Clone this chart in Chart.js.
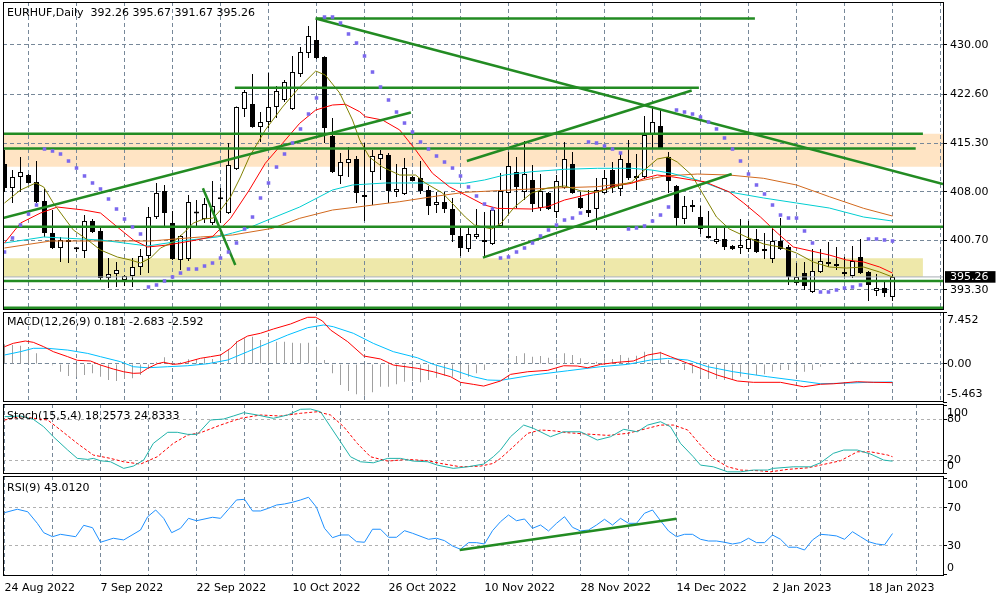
<!DOCTYPE html>
<html>
<head>
<meta charset="utf-8">
<script src="https://cdn.jsdelivr.net/npm/chart.js@4.4.1/dist/chart.umd.min.js"></script>
<style>
  html, body { margin:0; padding:0; background:#fff; }
  #wrap { position:relative; width:1000px; height:600px; overflow:hidden; background:#fff; }
  canvas { position:absolute; left:0; }
  .ttl { position:absolute; left:7px; font-family:"DejaVu Sans"; font-size:11px; line-height:13px; color:#000; white-space:pre; }
</style>
</head>
<body>
<div id="wrap">
  <canvas id="cBg" width="1000" height="311" style="top:0px"></canvas>
  <canvas id="cMain" width="1000" height="311" style="top:0px"></canvas>
  <canvas id="cMacd" width="1000" height="93" style="top:311px"></canvas>
  <canvas id="cStoch" width="1000" height="72" style="top:404px"></canvas>
  <canvas id="cRsi" width="1000" height="124" style="top:476px"></canvas>
  <div class="ttl" style="top:6px">EURHUF,Daily  392.26 395.67 391.67 395.26</div>
  <div class="ttl" style="top:315px">MACD(12,26,9) 0.181 -2.683 -2.592</div>
  <div class="ttl" style="top:409px">Stoch(15,5,4) 18.2573 24.8333</div>
  <div class="ttl" style="top:481px">RSI(9) 43.0120</div>
</div>
<script>
// ---------------- DATA ----------------
const dateLabels = ['24 Aug 2022','7 Sep 2022','22 Sep 2022','10 Oct 2022','26 Oct 2022','10 Nov 2022','28 Nov 2022','14 Dec 2022','2 Jan 2023','18 Jan 2023'];
const dateBars = [0,12,24,36,48,60,72,84,96,108];
const gridBars = [0,6,12,18,24,30,36,42,48,54,60,66,72,78,84,90,96,102,108,114];

const opens = [412.17,408.58,410.23,410.52,409.48,406.63,401.84,399.59,400.79,399.45,
399.14,403.63,402.14,395.10,395.69,394.80,395.40,396.74,398.39,404.23,
408.13,403.33,397.79,397.94,404.83,403.93,403.33,406.93,404.83,411.42,
420.41,421.16,417.72,418.46,420.71,421.76,420.41,425.65,428.80,430.75,
428.20,416.37,410.38,412.32,412.92,407.30,410.97,412.92,413.52,407.98,
407.68,410.23,410.08,408.28,406.03,406.48,405.43,401.39,399.44,401.24,
400.64,400.19,402.89,407.83,410.97,407.98,409.78,405.58,407.83,404.98,
408.58,412.17,407.08,405.28,405.43,407.83,411.27,408.43,412.32,410.08,
410.23,416.52,417.87,413.22,408.88,403.93,406.03,404.23,401.39,400.49,
400.94,399.89,399.59,399.44,400.94,399.22,397.94,400.64,399.74,394.35,
395.84,393.00,395.99,397.49,397.19,395.69,395.40,398.24,395.99,393.15,
393.60,392.26];
const highs = [414.27,411.27,413.22,410.67,412.62,408.43,405.28,401.24,402.59,399.74,
404.53,403.93,402.59,398.09,397.49,395.54,398.09,399.44,405.73,409.33,
409.03,405.13,401.54,407.53,406.78,407.08,409.63,408.58,415.32,420.80,
423.26,425.65,419.96,425.80,423.86,424.76,428.35,429.70,432.85,433.89,
428.30,419.06,413.82,414.72,413.37,415.32,414.27,414.27,413.82,412.17,
413.07,410.38,412.62,408.88,407.98,407.98,407.08,402.59,402.89,405.43,
404.98,405.73,410.82,413.97,413.22,415.62,412.02,410.67,407.98,410.52,
415.47,413.97,407.98,408.28,410.08,411.27,412.47,413.97,415.77,413.67,
419.36,420.86,420.26,413.97,409.03,407.38,406.78,405.88,405.13,402.74,
402.74,400.04,403.93,403.63,402.44,401.84,402.74,404.08,400.04,397.34,
397.49,399.44,399.44,400.49,399.74,398.24,399.89,400.94,396.14,395.69,
394.50,395.67];
const lows = [407.98,406.33,407.98,409.20,406.33,401.24,399.44,397.49,397.34,398.99,
398.09,401.84,394.80,393.60,393.75,393.90,393.75,395.54,395.84,403.93,
402.74,397.79,396.29,397.64,402.74,403.33,403.03,403.33,404.68,411.27,
419.21,417.60,415.47,417.57,419.06,421.46,420.26,425.21,428.05,427.90,
415.32,410.82,409.18,410.23,406.33,403.63,406.03,409.78,406.33,407.23,
407.53,409.55,407.68,404.53,404.83,404.83,400.49,398.39,398.99,400.94,
398.09,400.04,402.74,404.53,405.58,406.78,404.98,405.13,405.28,404.08,
408.45,407.70,405.43,404.23,402.29,407.70,407.83,407.38,409.78,408.28,
409.93,414.57,414.42,407.83,402.89,403.18,404.98,401.69,401.00,400.19,
399.29,399.29,398.69,398.99,398.84,397.94,397.34,399.29,394.05,394.05,
393.30,392.85,395.84,396.74,396.29,395.25,395.10,395.69,391.65,392.40,
392.25,391.67];
const closes = [408.58,410.23,410.97,409.33,406.48,401.84,399.59,400.79,400.49,399.40,
403.63,401.99,395.10,395.69,396.29,395.40,396.74,398.39,404.23,407.83,
404.83,397.94,401.39,406.48,404.76,406.18,405.88,406.90,412.02,420.71,
422.96,417.72,418.46,420.71,423.11,424.46,425.95,428.95,431.35,428.05,
417.57,410.97,412.47,412.92,407.83,407.23,413.37,413.67,408.13,408.43,
411.57,409.63,408.13,405.88,406.48,405.43,401.54,399.59,401.69,401.69,
400.49,405.28,408.13,411.87,408.73,410.67,406.18,408.13,405.43,409.63,
412.92,407.83,405.58,404.83,408.28,410.08,408.58,412.92,410.08,410.38,
416.52,418.46,414.57,409.63,404.08,405.88,405.73,402.44,401.09,400.94,
399.74,399.44,400.04,400.94,398.99,399.14,400.64,399.44,395.25,395.25,
393.90,396.14,397.64,397.19,396.89,395.99,397.64,395.84,394.05,393.60,
392.85,395.26];
const sar = [398.99,401.09,403.03,404.68,406.03,
414.42,414.12,413.67,412.62,411.57,410.38,409.33,408.43,406.93,405.43,403.93,402.74,401.69,
393.75,394.05,394.65,395.25,395.84,396.44,396.44,396.89,397.34,398.09,398.99,400.34,402.44,404.23,407.08,409.33,411.72,413.67,415.32,417.42,419.66,422.06,
434.19,434.19,433.29,431.65,430.30,428.35,425.95,423.71,421.76,419.96,418.31,416.97,415.47,414.42,413.37,412.47,411.57,410.38,408.73,407.38,406.18,405.43,
398.09,398.24,398.99,399.59,400.34,401.39,402.29,403.03,403.78,404.08,404.83,
415.47,415.32,414.87,414.42,413.82,
402.44,402.59,402.89,403.63,404.53,405.73,
420.26,419.96,419.66,419.21,418.46,417.42,416.07,414.42,412.62,410.67,409.03,407.68,406.03,404.53,404.08,404.08,402.14,400.34,
393.00,393.00,393.30,393.60,393.75,394.05,
400.94,400.94,400.79,400.64];

const maFast = [[0,406.33],[2,408.28],[3.9,409.33],[4.9,408.73],[6.1,406.33],[7.4,404.23],[8.6,402.29],[10.4,400.79],[12,399.29],[14.1,398.24],[15.75,397.79],[17,397.34],[18.25,398.09],[19.5,399.59],[21.1,400.49],[22.4,401.84],[23.6,403.33],[24.9,403.93],[26.1,404.08],[27,405.28],[28.25,407.23],[29.5,410.23],[30.6,413.22],[32.6,417.27],[34.75,420.71],[36.9,423.71],[38.9,426.10],[40.1,425.50],[41.9,422.81],[43.5,418.76],[44.4,415.77],[45.6,413.22],[47.25,411.72],[49.4,410.52],[51.4,410.52],[52.6,409.33],[54.75,407.83],[57.6,404.23],[58.75,403.03],[60.9,402.44],[62.1,403.33],[63.75,405.73],[65.9,407.83],[67.9,408.58],[70,408.88],[72.1,408.13],[74.1,407.98],[76.25,408.73],[78.4,409.48],[80,411.27],[81.6,412.92],[82.9,413.22],[84.1,412.47],[85.9,410.52],[87.75,406.78],[89,404.23],[90.6,402.44],[92.75,401.24],[94.9,400.19],[96.9,399.74],[99,398.84],[101.1,397.49],[103.1,396.74],[105.25,396.59],[107.4,396.74],[109.4,395.99],[111,395.25]];
const maRed = [[0,400.34],[2,403.33],[4.5,404.83],[6.6,405.73],[9.9,405.28],[12,404.83],[14.1,402.74],[16.1,400.79],[17.9,399.74],[20.4,400.04],[24,400.79],[26,401.29],[28.25,404.04],[30.6,408.28],[32.6,412.28],[34.75,415.28],[36.9,418.27],[38.9,420.26],[41,421.01],[42.6,421.12],[44.4,420.01],[45.1,419.26],[47.25,418.76],[49.4,417.27],[51.4,414.27],[53.5,410.78],[55.6,408.77],[57.6,407.53],[60,406.03],[61.6,405.53],[65.9,405.43],[67.9,405.78],[70,406.78],[72.1,407.38],[74.1,408.02],[76.25,408.88],[78.4,409.28],[80,410.03],[81.6,410.53],[83.4,410.27],[85.9,409.78],[87.5,409.52],[90.6,407.98],[92.4,406.33],[94.5,404.23],[96.6,401.84],[98.6,399.74],[103.1,398.54],[105.25,397.79],[107.4,397.49],[109.4,396.74],[111,395.84]];
const maCyan = [[0,400.34],[4.9,401.24],[12,400.79],[17.9,399.89],[22,400.64],[26.6,401.24],[28.5,401.84],[29.9,402.29],[33.5,404.08],[36.9,405.73],[41,408.28],[43.5,409.03],[47.6,409.33],[53.5,409.33],[57.5,409.28],[60,409.78],[62.5,410.53],[65.9,411.02],[70,411.38],[74.1,411.53],[78.4,411.53],[80.9,411.27],[83.4,410.78],[86.6,409.78],[90.6,407.98],[94.9,407.08],[99,406.33],[103.1,405.58],[107.4,404.23],[111,403.63]];
const maOrange = [[0,399.59],[5.75,400.64],[12,400.64],[18.25,400.64],[24.5,401.24],[28.5,401.54],[33.5,402.54],[36.9,404.04],[41,405.28],[45.1,405.88],[49.4,406.53],[53.5,407.28],[57.5,407.93],[61.6,408.18],[65.9,408.43],[70,408.63],[74.1,408.78],[78.4,409.38],[82.5,410.38],[86.6,410.67],[90.6,410.52],[94.9,410.03],[99,409.03],[103.1,407.28],[107.4,405.53],[111,404.38]];

// horizontal levels: [price, fromBar, toBar]
const hLevels = [[433.97,38.9,93.8],[423.60,28.8,86.8],[416.71,-1,114.8],[414.49,-1,113.9],[402.78,-1,118],[394.65,-1,118],[390.63,-1,118]];
// trend lines: [bar1, price1, bar2, price2]
const trendLines = [[38.9,433.97,117.31,409.18],[-0.19,404.08,50.8,419.89],[24.8,408.53,28.85,397.04],[57.8,412.62,85.9,423.18],[59.8,398.14,90.9,410.67]];
// zones: [top, bottom, fromBar, toBar]
const zones = [[416.71,411.77,-1,118],[398.05,395.29,-1,114.8]];
const zoneColors = ['#FFE4C4','#EEE8AA'];
const lastPrice = 395.26;
const priceTickValues = [430.00,422.60,415.30,408.00,400.70,393.30];
const priceTickLabels = ['430.00','422.60','415.30','408.00','400.70','393.30'];

const macdHist = [2.81,2.71,2.61,2.24,1.52,0.1,-0.2,-1.12,-1.74,-1.84,
-1.59,-1.35,-1.84,-2.31,-2.45,-2.17,-2.07,-1.59,-0.73,0.23,
0.95,0.32,0.23,0.66,0.70,0.80,0.70,1.03,1.99,3.29,
3.67,3.90,3.43,3.53,3.19,3.19,3.04,2.96,3.04,2.47,
0.56,-1.35,-3.03,-3.89,-4.36,-4.56,-4.08,-3.27,-3.27,-2.93,
-2.55,-2.45,-2.64,-2.31,-1.98,-1.69,-1.84,-1.98,-1.84,-1.35,
-0.88,-0.16,0.0,0.8,1.13,1.52,1.03,1.13,0.89,0.80,
1.52,1.28,0.80,0.23,0.32,0.80,0.70,1.28,0.89,1.18,
1.75,2.10,1.75,0.56,-0.05,-0.88,-1.35,-1.69,-2.17,-2.17,
-2.31,-2.31,-1.84,-1.69,-1.59,-1.49,-1.12,-0.88,-0.88,-0.88,
-1.12,-0.88,-0.40,0.1,0.15,0.1,0.23,0.2,0.1,0.1,
0.05,0.18];
const macdMain = [[0,2.47],[1.1,2.96],[2.6,3.29],[3.6,3.10],[4.9,2.47],[6.1,1.76],[7.9,1.04],[9.1,0.52],[10.75,0.42],[12,-0.16],[13.6,-0.73],[14.9,-1.12],[16.1,-1.35],[17,-1.31],[17.9,-0.63],[19.1,0.03],[19.9,0.23],[21.1,-0.06],[22,0.03],[23.25,0.42],[24.5,0.81],[25.75,1.04],[27,1.28],[28.25,2.24],[29.1,3.19],[30.4,4.01],[32,4.40],[33.6,5.01],[35.75,5.73],[37,6.30],[37.9,6.69],[38.9,6.69],[39.75,6.16],[40.75,4.87],[42.9,3.19],[44.9,1.14],[47,0.71],[48.6,-0.16],[51.6,-0.63],[53.6,-1.12],[55.75,-1.83],[57,-2.64],[58.6,-2.93],[59.9,-3.18],[62,-2.45],[63.25,-1.50],[65.4,-1.12],[67.9,-0.92],[69.9,-0.26],[71.6,-0.30],[72.9,-0.55],[74.5,-0.06],[76.6,0.23],[78.6,0.42],[80.4,1.28],[82,1.61],[83.25,1.04],[85.4,0.09],[87,-0.63],[89.1,-1.60],[91.6,-2.45],[93.6,-2.64],[97,-2.64],[99.9,-3.28],[102,-2.92],[103.6,-2.85],[106.6,-2.55],[108.6,-2.64],[111,-2.683]];
const macdSignal = [[0,1.28],[2,1.76],[3.6,2.24],[5.4,2.24],[7.9,1.99],[10.4,1.51],[12,1.04],[14.5,0.32],[16.1,-0.40],[17.9,-0.55],[20.4,-0.40],[22.9,-0.26],[25.4,0.03],[27.9,0.56],[30.4,1.76],[32.9,2.95],[35.4,4.15],[37.9,5.20],[39.9,5.59],[41.1,5.34],[43.6,4.40],[46.1,2.95],[48.6,1.76],[51.6,0.89],[53.6,-0.06],[56.1,-0.87],[58.6,-1.83],[60.4,-2.31],[62,-2.36],[66.1,-1.59],[70.4,-0.98],[74.5,-0.40],[77.9,-0.06],[80.75,0.56],[82.9,0.80],[85.4,0.56],[87.9,-0.40],[91.1,-1.12],[95.4,-1.84],[99.5,-2.45],[102,-2.84],[105.75,-2.74],[107.9,-2.64],[111,-2.592]];
const macdTickValues = [-5.463,0,7.452];
const macdTickLabels = [['-5.463',''],'0.00',['','7.452']];

const stochMain = [[0,83.8],[2,84.8],[3.6,79.9],[4.9,69.0],[6.1,54.3],[7.9,34.7],[9.1,22.4],[10.4,20.9],[11.1,22.4],[12,18.9],[13.25,17.4],[14.9,7.7],[16.1,11.0],[17.4,19.9],[18.6,44.5],[20.4,60.8],[21.6,60.8],[22.9,57.8],[24.1,57.8],[25.75,78.9],[27.4,80.4],[28.6,84.8],[29.9,89.7],[31.6,86.3],[33.6,81.4],[35.4,86.3],[37,94.7],[38.25,95.1],[39.5,91.1],[40.75,69.0],[42,46.9],[43.25,24.8],[44.5,17.4],[46.1,15.9],[47.9,22.4],[49.5,22.4],[51.1,18.4],[52.9,17.4],[54.1,12.5],[56.1,7.7],[57.9,10.0],[59.9,14.0],[61.1,24.8],[62,34.7],[63.25,54.3],[64.9,71.5],[66.1,66.7],[68.25,54.3],[69.9,61.6],[72,61.6],[74.1,49.4],[75.75,54.3],[77.4,65.2],[79.1,61.6],[80.4,71.5],[82,76.4],[83.25,69.0],[84.5,44.5],[86.1,24.8],[87,12.5],[88.6,10.0],[90.4,2.6],[92,2.6],[93.6,5.2],[95.4,5.2],[96.1,7.7],[98.6,10.0],[100.75,10.0],[102,15.9],[103.6,29.8],[104.9,34.7],[106.6,34.7],[108.25,28.8],[109.9,19.9],[111,18.26]];
const stochSignal = [[0,78.9],[2,83.8],[5.4,78.9],[7,64.2],[9.1,44.5],[11.1,27.3],[13.25,22.4],[14.9,17.4],[17,14.0],[19.1,24.8],[21.1,44.5],[22.9,56.8],[24.5,60.2],[27,71.5],[29.5,81.4],[32,86.3],[34.5,84.8],[37,88.8],[39.1,91.1],[40.75,86.3],[42.4,69.0],[44.1,44.5],[45.75,24.8],[47.9,18.4],[50.4,20.9],[52.9,18.9],[54.5,15.0],[57,10.0],[59.5,11.0],[61.1,15.0],[62,22.4],[63.6,39.5],[65.4,59.3],[67,64.2],[68.6,63.1],[70.4,60.2],[72.9,58.2],[75.4,56.3],[77.9,59.3],[80.4,66.7],[82,71.5],[83.6,71.5],[85.4,64.2],[87,42.0],[88.6,22.4],[90.4,10.0],[92,5.2],[94.5,4.1],[95.75,2.6],[97.9,6.2],[100.4,8.5],[102,12.5],[104.5,18.9],[106.6,32.1],[108.25,32.1],[110.4,27.3],[111,24.83]];
const stochTickValues = [0,20,80,100];
const stochTickLabels = [['0',''],'20','80',['','100']];

const rsiLine = [[0,64.8],[1.6,68.4],[2.9,65.8],[4.1,53.7],[4.9,43.9],[6,39.7],[7,42.2],[8.9,39.7],[9.9,51.6],[11,49.1],[12,33.9],[13.6,38.1],[14.9,36.3],[17,46.7],[17.9,60.6],[18.9,67.6],[19.9,58.9],[20.9,43.9],[22,48.5],[23,58.9],[24,56.4],[26,60.0],[27,58.9],[28,68.4],[29,78.1],[30,78.8],[31,66.6],[32,66.6],[33,69.4],[34,72.8],[35,73.9],[36,75.7],[37,78.1],[38,80.9],[39,70.4],[40,48.5],[41,38.7],[42,41.5],[43,41.5],[44,34.5],[45,33.9],[46,47.5],[47,47.5],[48,39.1],[49,39.1],[50,46.0],[51,43.3],[53,37.0],[54,38.1],[55,35.6],[56,30.0],[57,26.6],[58,33.5],[59,33.5],[60,32.1],[61,46.0],
[62,55.4],[63,62.4],[64,56.4],[65,58.2],[66,48.5],[67,51.9],[68,45.7],[69,53.7],[70,60.6],[71,49.5],[72,45.7],[73,46.7],[74,51.9],[75,57.9],[76,51.9],[77,58.9],[78,53.7],[79,53.7],[80,64.2],[81,67.6],[82,56.4],[83,45.7],[84,39.7],[85,42.2],[86,42.2],[87,37.0],[88,35.2],[89,35.2],[90,33.9],[91,32.1],[92,33.5],[93,38.1],[94,33.5],[95,33.5],[96,41.5],[97,37.0],[98,28.7],[99,28.7],[100,25.8],[101,36.3],[102,42.2],[103,41.5],[104,40.5],[105,37.0],[106,44.9],[107,39.7],[108,34.5],[109,32.1],[110,31.1],[111,43.01]];
const rsiTrend = [[56.9,25.8],[84,58.5]];
const rsiTickValues = [0,30,70,100];
const rsiTickLabels = [['0',''],'30','70',['','100']];

// ---------------- STYLE / LAYOUT ----------------
Chart.defaults.font.family = 'DejaVu Sans';
Chart.defaults.font.size = 11;
Chart.defaults.color = '#000';
const X_MIN = -0.1875, X_MAX = 117.3125;
const GRID = '#778899', LEVEL = '#b0b0b0', GREEN = '#228B22';
const NONE = 'rgba(0,0,0,0)';

const framePlugin = { id:'frame', afterDraw(ch) {
  const a = ch.chartArea, c = ch.ctx;
  c.save(); c.setLineDash([]); c.strokeStyle = '#000'; c.lineWidth = 1;
  c.strokeRect(a.left + 0.5, a.top + 0.5, a.right - a.left, a.bottom - a.top - 1);
  c.restore();
}};

function xAxis(labels) {
  return {
    type:'linear', min:X_MIN, max:X_MAX, offset:false, bounds:'data',
    afterBuildTicks: s => { s.ticks = gridBars.map(v => ({value:v})); },
    ticks: { display: labels, autoSkip:false, maxRotation:0, minRotation:0, align:'start', padding:6, color:'#000',
      font:{family:'DejaVu Sans', size:11},
      callback: v => { const k = dateBars.indexOf(v); return k >= 0 ? dateLabels[k] : ''; } },
    grid: { display:true, color:GRID, lineWidth:1, drawTicks:false },
    border: { display:false, dash:[4,3] },
    afterFit: s => { s.height = labels ? 24 : 0; s.paddingLeft = 0; s.paddingRight = 0; s.paddingTop = 0; s.paddingBottom = 0; }
  };
}
function yAxis(o) {
  return {
    type:'linear', position:'right', min:o.min, max:o.max, bounds:'data',
    afterBuildTicks: s => { s.ticks = o.values.map(v => ({value:v})); },
    ticks: { autoSkip:false, padding:o.pad, font:{family:'DejaVu Sans', size:11, lineHeight:o.lh},
      color: c => (o.special && c.tick && c.tick.value === o.special) ? '#fff' : '#000',
      showLabelBackdrop: c => !!(o.special && c.tick && c.tick.value === o.special),
      backdropColor:'#000', backdropPadding:{left:5, right:7, top:0, bottom:0},
      callback: v => o.labels[o.values.indexOf(v)] },
    grid: { color: c => (c.tick && o.gridOn.indexOf(c.tick.value) >= 0) ? o.gridColor : NONE,
      lineWidth:1, drawTicks:true, tickLength:4, tickWidth:1, tickBorderDash:[],
      tickColor: c => (o.special && c.tick && c.tick.value === o.special) ? NONE : '#000' },
    border: { display:false, dash:o.dash },
    afterFit: s => { s.width = 57; s.paddingTop = 0; s.paddingBottom = 0; s.paddingLeft = 0; s.paddingRight = 0; }
  };
}
function baseOpts(padding, scales) {
  return { responsive:false, animation:false, events:[], devicePixelRatio:1,
    layout:{ padding, autoPadding:false }, plugins:{ legend:{display:false}, tooltip:{enabled:false} }, scales };
}
const pts = arr => arr.map(p => ({x:p[0], y:p[1]}));
function seg(x1, y1, x2, y2, color, w, order) {
  return { type:'line', data:[{x:x1,y:y1},{x:x2,y:y2}], borderColor:color, borderWidth:w, pointRadius:0, order };
}

// ---------------- MAIN: background zones ----------------
const Y_MIN = 390.304, Y_MAX = 436.441;
new Chart(document.getElementById('cBg'), {
  type:'line',
  data:{ datasets: zones.map((z, i) => ({ type:'line', data:[{x:z[2],y:z[0]},{x:z[3],y:z[0]}],
    fill:{value:z[1]}, backgroundColor:zoneColors[i], borderWidth:0, pointRadius:0 })) },
  options: baseOpts({left:3, right:57, top:2, bottom:1}, {
    x:{type:'linear', min:X_MIN, max:X_MAX, display:false, bounds:'data'},
    y:{type:'linear', min:Y_MIN, max:Y_MAX, display:false, bounds:'data'} })
});

// ---------------- MAIN chart ----------------
const mainSets = [];
mainSets.push({ type:'bar', data: highs.map((h, i) => ({x:i, y:[lows[i], h]})), barThickness:1,
  backgroundColor:'#000', borderWidth:0, grouped:false, inflateAmount:0, order:30 });
mainSets.push({ type:'bar', data: opens.map((o, i) => ({x:i, y:[o, closes[i]]})), barThickness:5,
  backgroundColor: opens.map((o, i) => closes[i] >= o ? '#fff' : '#000'), borderColor:'#000', borderWidth:1,
  borderSkipped:false, minBarLength:2, grouped:false, inflateAmount:0, order:29 });
mainSets.push(seg(-1, lastPrice, 118, lastPrice, '#a8aeb5', 1, 28));
[[maOrange,'#D2691E'],[maCyan,'#00CED1'],[maRed,'#FF0000'],[maFast,'#808000']].forEach((m, k) => {
  mainSets.push({ type:'line', data:pts(m[0]), borderColor:m[1], borderWidth:1, pointRadius:0, tension:0, order:20 - k });
});
hLevels.forEach(l => mainSets.push(seg(l[1], l[0], l[2], l[0], GREEN, 2.5, 5)));
trendLines.forEach(t => mainSets.push(seg(t[0], t[1], t[2], t[3], GREEN, 2.5, 5)));
mainSets.push({ type:'line', data: sar.map((v, i) => ({x:i, y:v})), showLine:false, pointStyle:'rect',
  pointRadius:2.5, pointBackgroundColor:'#7B68EE', pointBorderWidth:0, order:1 });

new Chart(document.getElementById('cMain'), {
  type:'line', data:{ datasets: mainSets },
  options: baseOpts({left:3, right:0, top:2, bottom:1}, {
    x: xAxis(false),
    y: yAxis({ min:Y_MIN, max:Y_MAX, values: priceTickValues.concat([lastPrice]), labels: priceTickLabels.concat(['395.26']),
      special:lastPrice, gridOn:priceTickValues, gridColor:GRID, dash:[4,3], pad:3, lh:1.05 }) }),
  plugins:[framePlugin]
});

// ---------------- MACD ----------------
new Chart(document.getElementById('cMacd'), {
  type:'line',
  data:{ datasets:[
    { type:'bar', data: macdHist.map((v, i) => ({x:i, y:v})), barThickness:1, backgroundColor:'#a0a0a0',
      borderWidth:0, grouped:false, inflateAmount:0, order:10 },
    { type:'line', data:pts(macdSignal), borderColor:'#00BFFF', borderWidth:1, pointRadius:0, order:5 },
    { type:'line', data:pts(macdMain), borderColor:'#FF0000', borderWidth:1, pointRadius:0, order:4 } ] },
  options: baseOpts({left:3, right:0, top:1, bottom:2}, {
    x: xAxis(false),
    y: yAxis({ min:-5.463, max:7.452, values:macdTickValues, labels:macdTickLabels, gridOn:[0], gridColor:GRID, dash:[4,3], pad:0, lh:1.5 }) }),
  plugins:[framePlugin]
});

// ---------------- STOCH ----------------
new Chart(document.getElementById('cStoch'), {
  type:'line',
  data:{ datasets:[
    { type:'line', data:pts(stochSignal), borderColor:'#FF0000', borderWidth:1, borderDash:[3,2], pointRadius:0, order:5 },
    { type:'line', data:pts(stochMain), borderColor:'#20B2AA', borderWidth:1, pointRadius:0, order:4 } ] },
  options: baseOpts({left:3, right:0, top:0, bottom:2}, {
    x: xAxis(false),
    y: yAxis({ min:-0.6, max:102.5, values:stochTickValues, labels:stochTickLabels, gridOn:[20,80], gridColor:LEVEL, dash:[3,3], pad:0, lh:1.27 }) }),
  plugins:[framePlugin]
});

// ---------------- RSI ----------------
new Chart(document.getElementById('cRsi'), {
  type:'line',
  data:{ datasets:[
    { type:'line', data:pts(rsiTrend), borderColor:GREEN, borderWidth:2.5, pointRadius:0, order:3 },
    { type:'line', data:pts(rsiLine), borderColor:'#1E90FF', borderWidth:1, pointRadius:0, order:4 } ] },
  options: baseOpts({left:3, right:0, top:0, bottom:0}, {
    x: xAxis(true),
    y: yAxis({ min:-1.36, max:103.13, values:rsiTickValues, labels:rsiTickLabels, gridOn:[30,70], gridColor:LEVEL, dash:[3,3], pad:0, lh:1.14 }) }),
  plugins:[framePlugin]
});
</script>
</body>
</html>
